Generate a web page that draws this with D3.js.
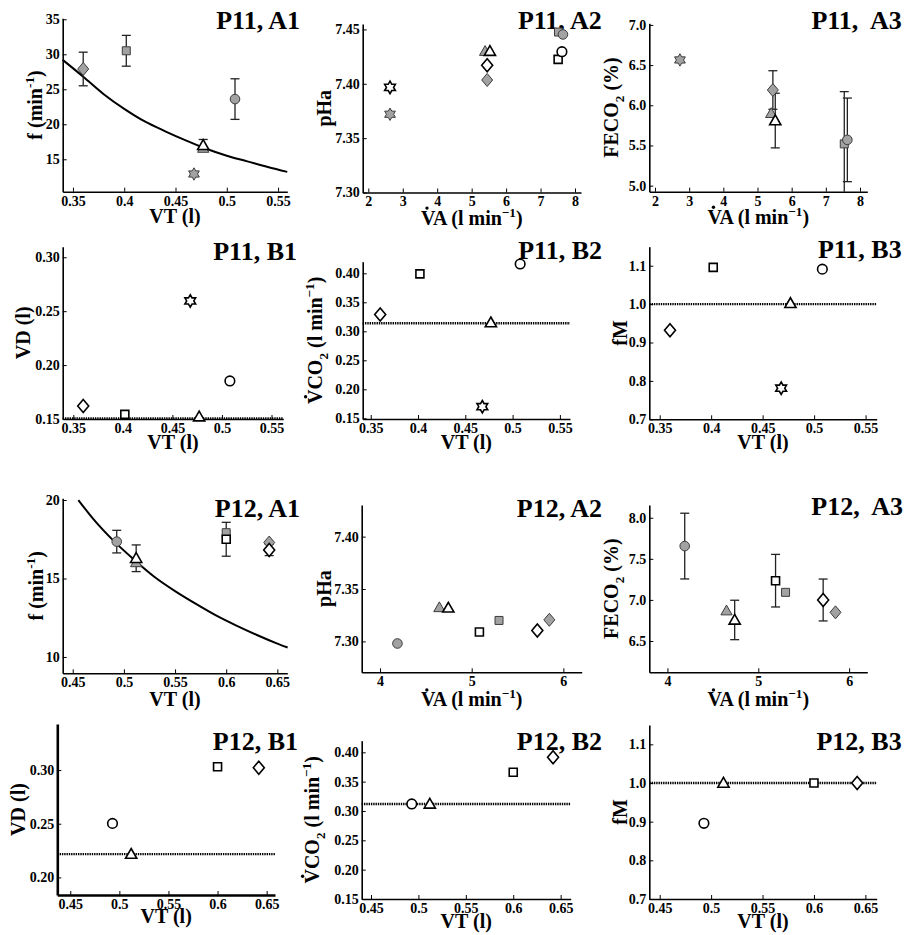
<!DOCTYPE html>
<html><head><meta charset="utf-8">
<script src="https://cdn.jsdelivr.net/npm/d3@7"></script>
<style>body{margin:0;background:#fff}svg{display:block}</style>
</head><body>
<svg id="c" width="910" height="935"></svg>
<script>
// ================= DATA =================
// P11 conditions (marker shapes)
const P11_shapes = ["diamond","square","hexagram","triangle","circle"];
const P11_VT = [0.360, 0.402, 0.468, 0.477, 0.508];
// P11 A1 : f vs VT
const P11_A1_f_gray      = [27.9, 30.5, 12.9, 16.6, 23.6];
const P11_A1_f_gray_err  = [2.4, 2.2, 0, 0, 2.9];
const P11_A1_f_white     = [null, null, null, 17.0, null];
const P11_A1_f_white_err = [0, 0, 0, 0.83, 0];
const P11_A1_curve_VT = [0.340,0.360,0.380,0.400,0.420,0.440,0.460,0.480,0.500,0.520,0.540,0.559];
const P11_A1_curve_f  = [29.2, 26.8, 24.3, 22.2, 20.4, 19.0, 17.7, 16.5, 15.5, 14.7, 13.9, 13.2];
// P11 A2 : pHa vs VA
const P11_A2_VA_gray  = [5.45, 7.52, 2.63, 5.39, 7.65];
const P11_A2_pH_gray  = [7.4035, 7.4476, 7.372, 7.430, 7.4454];
const P11_A2_VA_white = [5.45, 7.51, 2.63, 5.53, 7.62];
const P11_A2_pH_white = [7.417, 7.4225, 7.3967, 7.430, 7.4295];
// P11 A3 : FECO2 vs VA
const P11_A3_VA_gray      = [5.45, 7.54, 2.73, 5.40, 7.63];
const P11_A3_FE_gray      = [6.19, 5.52, 6.564, 5.90, 5.57];
const P11_A3_FE_gray_err  = [0.24, 0.65, 0, 0, 0.52];
const P11_A3_VA_white     = [null, null, null, 5.52, null];
const P11_A3_FE_white     = [null, null, null, 5.81, null];
const P11_A3_FE_white_err = [0, 0, 0, 0.34, 0];
// P11 B panels
const P11_B1_VD   = [0.162, 0.1543, 0.2595, 0.1522, 0.1853];
const P11_B1_ref  = 0.1505;
const P11_B2_VCO2 = [0.329, 0.399, 0.170, 0.315, 0.416];
const P11_B2_ref  = 0.314;
const P11_B3_fM   = [0.932, 1.0957, 0.781, 1.002, 1.091];
const P11_B3_ref  = 1.0;

// P12 conditions
const P12_shapes = ["circle","triangle","square","diamond"];
const P12_VT = [0.493, 0.512, 0.600, 0.642];
// P12 A1
const P12_A1_f_gray      = [17.35, 16.02, 17.92, 17.29];
const P12_A1_f_gray_err  = [0.72, 0, 0, 0];
const P12_A1_f_white     = [null, 16.29, 17.5, 16.82];
const P12_A1_f_white_err = [0, 0.85, 1.08, 0.36];
const P12_A1_curve_VT = [0.4555,0.470,0.490,0.510,0.530,0.550,0.570,0.590,0.610,0.630,0.650,0.660];
const P12_A1_curve_f  = [20.0, 18.8, 17.4, 16.2, 15.1, 14.2, 13.4, 12.65, 12.0, 11.4, 10.85, 10.6];
// P12 A2
const P12_A2_VA_gray  = [4.19, 4.647, 5.298, 5.847];
const P12_A2_pH_gray  = [7.298, 7.3324, 7.320, 7.3206];
const P12_A2_VA_white = [null, 4.745, 5.084, 5.716];
const P12_A2_pH_white = [null, 7.332, 7.3089, 7.3105];
// P12 A3
const P12_A3_VA_gray      = [4.19, 4.65, 5.30, 5.85];
const P12_A3_FE_gray      = [7.655, 6.869, 7.092, 6.849];
const P12_A3_FE_gray_err  = [0.40, 0, 0, 0];
const P12_A3_VA_white     = [null, 4.74, 5.19, 5.714];
const P12_A3_FE_white     = [null, 6.756, 7.234, 6.999];
const P12_A3_FE_white_err = [0, 0.24, 0.32, 0.255];
// P12 B panels
const P12_B1_VD   = [0.2503, 0.2217, 0.3031, 0.3022];
const P12_B1_ref  = 0.2217;
const P12_B2_VCO2 = [0.312, 0.312, 0.366, 0.3915];
const P12_B2_ref  = 0.312;
const P12_B3_fM   = [0.8957, 1.0, 1.0, 1.0];
const P12_B3_ref  = 1.0;

// Tick values / labels
const ticksVT11 = [0.35,0.4,0.45,0.5,0.55], labVT11 = ["0.35","0.4","0.45","0.5","0.55"];
const ticksVT12 = [0.45,0.5,0.55,0.6,0.65], labVT12 = ["0.45","0.5","0.55","0.6","0.65"];
const ticksVA11 = [2,3,4,5,6,7,8], labVA11 = ["2","3","4","5","6","7","8"];
const ticksVA12 = [4,5,6], labVA12 = ["4","5","6"];
const ticksF11 = [15,20,25,30,35], labF11 = ["15","20","25","30","35"];
const ticksF12 = [10,15,20], labF12 = ["10","15","20"];
const ticksPH11 = [7.30,7.35,7.40,7.45], labPH11 = ["7.30","7.35","7.40","7.45"];
const ticksPH12 = [7.30,7.35,7.40], labPH12 = ["7.30","7.35","7.40"];
const ticksFE11 = [5.0,5.5,6.0,6.5,7.0], labFE11 = ["5.0","5.5","6.0","6.5","7.0"];
const ticksFE12 = [6.5,7.0,7.5,8.0], labFE12 = ["6.5","7.0","7.5","8.0"];
const ticksVD11 = [0.15,0.20,0.25,0.30], labVD11 = ["0.15","0.20","0.25","0.30"];
const ticksVD12 = [0.20,0.25,0.30], labVD12 = ["0.20","0.25","0.30"];
const ticksVCO2 = [0.15,0.20,0.25,0.30,0.35,0.40], labVCO2 = ["0.15","0.20","0.25","0.30","0.35","0.40"];
const ticksFM = [0.7,0.8,0.9,1.0,1.1], labFM = ["0.7","0.8","0.9","1.0","1.1"];

// ================= LABEL TEXT =================
const L_VT   = [{t:"VT (l)"}];
const L_VA   = [{t:"V",dot:1},{t:"A (l min"},{t:"\u22121",sup:1},{t:")"}];
const L_f    = [{t:"f (min"},{t:"-1",sup:1},{t:")"}];
const L_pH   = [{t:"pHa"}];
const L_FE   = [{t:"FECO"},{t:"2",sub:1},{t:" (%)"}];
const L_VD   = [{t:"VD (l)"}];
const L_VCO2 = [{t:"V",dot:1},{t:"CO"},{t:"2",sub:1},{t:" (l min"},{t:"\u22121",sup:1},{t:")"}];
const L_fM   = [{t:"fM"}];

// ================= RENDER =================
const FONT = "'Liberation Serif','Times New Roman',serif";
const GRAY = "#a2a2a2", GRAYSTROKE = "#3c3c3c";
const svg = d3.select("#c");

function shapePath(s){
  switch(s){
    case "diamond": return "M0,-6.5L5.5,0L0,6.5L-5.5,0Z";
    case "square": return "M-4,-4H4V4H-4Z";
    case "circle": { const r=4.8; return `M${r},0A${r},${r} 0 1,1 ${-r},0A${r},${r} 0 1,1 ${r},0Z`; }
    case "triangle": return "M0,-5.6L5.6,4.2L-5.6,4.2Z";
    case "hexagram": {
      const R=6.2, r=R/Math.sqrt(3); let p=[];
      for(let k=0;k<12;k++){const a=(-90+30*k)*Math.PI/180, rr=k%2?r:R; p.push([rr*Math.cos(a), rr*Math.sin(a)]);}
      return "M"+p.map(q=>q[0].toFixed(2)+","+q[1].toFixed(2)).join("L")+"Z";
    }
  }
}

// label in a group (g already positioned / rotated); text at origin
function writeLabel(g, segs, fs){
  const text = g.append("text").attr("x",0).attr("y",0).attr("text-anchor","middle")
    .attr("font-family",FONT).attr("font-size",fs).attr("font-weight","bold");
  let off=0, idx=0; const dots=[];
  segs.forEach(s=>{
    const ts=text.append("tspan").text(s.t);
    const target = s.sup ? -0.40*fs : (s.sub ? 0.28*fs : 0);
    if(target!==off){ ts.attr("dy", target-off); off=target; }
    if(s.sup||s.sub) ts.attr("font-size", fs*0.66);
    if(s.dot) dots.push(idx);
    idx += s.t.length;
  });
  const node = text.node();
  dots.forEach(i=>{
    const e = node.getExtentOfChar(i);
    const p = node.getStartPositionOfChar(i);
    g.append("circle").attr("cx", e.x + e.width/2).attr("cy", p.y - 0.66*fs - 3.2)
      .attr("r", 1.7).attr("fill","#000");
  });
}

function panel(cfg){
  const [L,R,T,B] = cfg.box;
  const x = d3.scaleLinear().domain(cfg.xd).range([L,R]);
  const y = d3.scaleLinear().domain(cfg.yd).range([B,T]);
  const g = svg.append("g");
  const aw = cfg.aw || 1.6;

  // axes
  const xa = g.append("g").attr("transform",`translate(0,${B})`)
    .call(d3.axisBottom(x).tickValues(cfg.xt).tickFormat((d,i)=>cfg.xl[i]).tickSizeInner(-4).tickSizeOuter(0).tickPadding(4));
  const ya = g.append("g").attr("transform",`translate(${L},0)`)
    .call(d3.axisLeft(y).tickValues(cfg.yt).tickFormat((d,i)=>cfg.yl[i]).tickSizeInner(-4).tickSizeOuter(0).tickPadding(3));
  [xa,ya].forEach(a=>{
    a.attr("font-family",FONT).attr("font-size",14).attr("font-weight","bold");
    a.select(".domain").attr("stroke","#000").attr("stroke-width",aw);
    a.selectAll(".tick line").attr("stroke","#000").attr("stroke-width",1);
    a.selectAll(".tick text").attr("fill","#000");
  });

  // axis labels
  writeLabel(g.append("g").attr("transform",`translate(${(L+R)/2},${B+cfg.xlo})`), cfg.xlab, 20);
  writeLabel(g.append("g").attr("transform",`translate(${cfg.ylx},${(T+B)/2}) rotate(-90)`), cfg.ylab, 20);

  // title
  g.append("text").attr("x",cfg.tx).attr("y",cfg.ty).attr("text-anchor","end")
    .attr("font-family",FONT).attr("font-size",26).attr("font-weight","bold").text(cfg.title);

  // reference dotted line
  if(cfg.ref!=null){
    g.append("line").attr("x1",L).attr("x2",R).attr("y1",y(cfg.ref)).attr("y2",y(cfg.ref))
      .attr("stroke","#000").attr("stroke-width",2.4).attr("stroke-dasharray","1.4,0.9");
  }
  // model curve
  if(cfg.curve){
    const pts = cfg.curve[0].map((v,i)=>[v,cfg.curve[1][i]]);
    g.append("path").attr("d", d3.line().x(d=>x(d[0])).y(d=>y(d[1])).curve(d3.curveMonotoneX)(pts))
      .attr("fill","none").attr("stroke","#000").attr("stroke-width",2);
  }
  // error bars
  const [y0,y1] = cfg.yd;
  const clampY = v=>Math.max(Math.min(v,Math.max(y0,y1)),Math.min(y0,y1));
  cfg.series.forEach(s=>{
    if(!s.err) return;
    s.y.forEach((v,i)=>{
      if(v==null || !s.err[i]) return;
      const xx = x(s.x[i]);
      const lo = v-s.err[i], hi = v+s.err[i];
      g.append("line").attr("x1",xx).attr("x2",xx).attr("y1",y(clampY(lo))).attr("y2",y(clampY(hi)))
        .attr("stroke","#222").attr("stroke-width",1.3);
      [lo,hi].forEach(e=>{
        if(e<Math.min(y0,y1)||e>Math.max(y0,y1)) return;
        g.append("line").attr("x1",xx-4.5).attr("x2",xx+4.5).attr("y1",y(e)).attr("y2",y(e))
          .attr("stroke","#222").attr("stroke-width",1.3);
      });
    });
  });
  // markers
  cfg.series.forEach(s=>{
    s.y.forEach((v,i)=>{
      if(v==null || s.x[i]==null) return;
      g.append("path").attr("d",shapePath(cfg.shapes[i]))
        .attr("transform",`translate(${x(s.x[i])},${y(v)})`)
        .attr("fill", s.fill==="gray"?GRAY:"#fff")
        .attr("stroke", s.fill==="gray"?GRAYSTROKE:"#000")
        .attr("stroke-width", s.fill==="gray"?1:1.6);
    });
  });
}

// ---------- P11 ----------
panel({box:[62.7,287.3,18.3,191.7], xd:[0.34,0.559], yd:[10.37,35.14], xlo:31,
  xt:ticksVT11, xl:labVT11, yt:ticksF11, yl:labF11, xlab:L_VT, ylab:L_f, ylx:42,
  title:"P11, A1", tx:300, ty:28.5, shapes:P11_shapes, curve:[P11_A1_curve_VT,P11_A1_curve_f],
  series:[{x:P11_VT,y:P11_A1_f_gray,err:P11_A1_f_gray_err,fill:"gray"},
          {x:P11_VT,y:P11_A1_f_white,err:P11_A1_f_white_err,fill:"white"}]});
panel({box:[362.7,581,24,192.5], xd:[1.837,8.174], yd:[7.30,7.455], xlo:32,
  xt:ticksVA11, xl:labVA11, yt:ticksPH11, yl:labPH11, xlab:L_VA, ylab:L_pH, ylx:331,
  title:"P11, A2", tx:601.7, ty:28.5, shapes:P11_shapes,
  series:[{x:P11_A2_VA_gray,y:P11_A2_pH_gray,fill:"gray"},
          {x:P11_A2_VA_white,y:P11_A2_pH_white,fill:"white"}]});
panel({box:[649.3,867.3,23.3,191.7], xd:[1.833,8.214], yd:[4.925,7.02], xlo:32,
  xt:ticksVA11, xl:labVA11, yt:ticksFE11, yl:labFE11, xlab:L_VA, ylab:L_FE, ylx:618,
  title:"P11,\u00a0 A3", tx:901.7, ty:29, shapes:P11_shapes,
  series:[{x:P11_A3_VA_gray,y:P11_A3_FE_gray,err:P11_A3_FE_gray_err,fill:"gray"},
          {x:P11_A3_VA_white,y:P11_A3_FE_white,err:P11_A3_FE_white_err,fill:"white"}]});
panel({box:[62.7,283.3,246.7,419], xd:[0.3393,0.5619], yd:[0.15,0.3098], xlo:30,
  xt:ticksVT11, xl:labVT11, yt:ticksVD11, yl:labVD11, xlab:L_VT, ylab:L_VD, ylx:30,
  title:"P11, B1", tx:297, ty:260, shapes:P11_shapes, ref:P11_B1_ref,
  series:[{x:P11_VT,y:P11_B1_VD,fill:"white"}]});
panel({box:[362.7,570,261.7,419], xd:[0.3415,0.5607], yd:[0.1488,0.42], xlo:30,
  xt:ticksVT11, xl:labVT11, yt:ticksVCO2, yl:labVCO2, xlab:L_VT, ylab:L_VCO2, ylx:322,
  title:"P11, B2", tx:602, ty:259, shapes:P11_shapes, ref:P11_B2_ref,
  series:[{x:P11_VT,y:P11_B2_VCO2,fill:"white"}]});
panel({box:[649.3,876.7,246.7,419.3], xd:[0.3399,0.5608], yd:[0.7,1.1495], xlo:30,
  xt:ticksVT11, xl:labVT11, yt:ticksFM, yl:labFM, xlab:L_VT, ylab:L_fM, ylx:627,
  title:"P11, B3", tx:901.7, ty:258, shapes:P11_shapes, ref:P11_B3_ref,
  series:[{x:P11_VT,y:P11_B3_fM,fill:"white"}]});

// ---------- P12 ----------
panel({box:[62.7,287.3,498.3,673.3], xd:[0.4402,0.6597], yd:[8.96,20.11], xlo:33,
  xt:ticksVT12, xl:labVT12, yt:ticksF12, yl:labF12, xlab:L_VT, ylab:L_f, ylx:43,
  title:"P12, A1", tx:300, ty:516.7, shapes:P12_shapes, curve:[P12_A1_curve_VT,P12_A1_curve_f],
  series:[{x:P12_VT,y:P12_A1_f_gray,err:P12_A1_f_gray_err,fill:"gray"},
          {x:P12_VT,y:P12_A1_f_white,err:P12_A1_f_white_err,fill:"white"}]});
panel({box:[361.7,581.7,505,672.3], xd:[3.8,6.2], yd:[7.2705,7.4302], xlo:34,
  xt:ticksVA12, xl:labVA12, yt:ticksPH12, yl:labPH12, xlab:L_VA, ylab:L_pH, ylx:331,
  title:"P12, A2", tx:602, ty:516.7, shapes:P12_shapes,
  series:[{x:P12_A2_VA_gray,y:P12_A2_pH_gray,fill:"gray"},
          {x:P12_A2_VA_white,y:P12_A2_pH_white,fill:"white"}]});
panel({box:[649.3,867.3,505,672.3], xd:[3.8,6.2], yd:[6.119,8.155], xlo:34,
  xt:ticksVA12, xl:labVA12, yt:ticksFE12, yl:labFE12, xlab:L_VA, ylab:L_FE, ylx:618,
  title:"P12,\u00a0 A3", tx:903, ty:515, shapes:P12_shapes,
  series:[{x:P12_A3_VA_gray,y:P12_A3_FE_gray,err:P12_A3_FE_gray_err,fill:"gray"},
          {x:P12_A3_VA_white,y:P12_A3_FE_white,err:P12_A3_FE_white_err,fill:"white"}]});
panel({box:[57.3,275,724,895], xd:[0.4368,0.6585], yd:[0.1836,0.3429], aw:2.6, xlo:28,
  xt:ticksVT12, xl:labVT12, yt:ticksVD12, yl:labVD12, xlab:L_VT, ylab:L_VD, ylx:25,
  title:"P12, B1", tx:298, ty:750, shapes:P12_shapes, ref:P12_B1_ref,
  series:[{x:P12_VT,y:P12_B1_VD,fill:"white"}]});
panel({box:[361.7,570.7,740.7,899], xd:[0.4402,0.6606], yd:[0.15,0.4198], xlo:29,
  xt:ticksVT12, xl:labVT12, yt:ticksVCO2, yl:labVCO2, xlab:L_VT, ylab:L_VCO2, ylx:319,
  title:"P12, B2", tx:602, ty:750, shapes:P12_shapes, ref:P12_B2_ref,
  series:[{x:P12_VT,y:P12_B2_VCO2,fill:"white"}]});
panel({box:[649.3,876.7,725,899], xd:[0.4399,0.661], yd:[0.7,1.15], xlo:29,
  xt:ticksVT12, xl:labVT12, yt:ticksFM, yl:labFM, xlab:L_VT, ylab:L_fM, ylx:627,
  title:"P12, B3", tx:901.7, ty:750, shapes:P12_shapes, ref:P12_B3_ref,
  series:[{x:P12_VT,y:P12_B3_fM,fill:"white"}]});
</script>
</body></html>
